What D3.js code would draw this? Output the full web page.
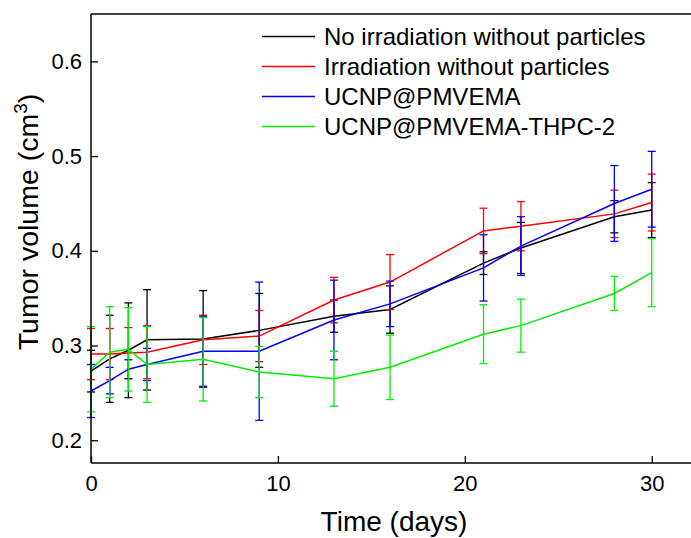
<!DOCTYPE html>
<html><head><meta charset="utf-8">
<script src="https://cdn.jsdelivr.net/npm/d3@7"></script>
<style>
html,body{margin:0;padding:0;background:#fff;}
text{font-family:"Liberation Sans", Arial, sans-serif;fill:#000;}
</style></head>
<body>
<svg id="chart" width="691" height="538"></svg>
<script>
const days = [0, 1, 2, 3, 6, 9, 13, 16, 21, 23, 28, 30];
const seriesNames = ["No irradiation without particles", "Irradiation without particles", "UCNP@PMVEMA", "UCNP@PMVEMA-THPC-2"];
const seriesColors = ["#000000", "#ff0000", "#0000ff", "#00ee00"];
const noIrrMean = [0.273, 0.286, 0.295, 0.306, 0.307, 0.316, 0.331, 0.338, 0.387, 0.403, 0.436, 0.443];
const noIrrErr  = [0.022, 0.046, 0.050, 0.053, 0.051, 0.039, 0.017, 0.025, 0.012, 0.027, 0.017, 0.029];
const irrMean   = [0.291, 0.291, 0.292, 0.293, 0.306, 0.310, 0.348, 0.367, 0.421, 0.426, 0.439, 0.451];
const irrErr    = [0.027, 0.027, 0.027, 0.028, 0.026, 0.027, 0.024, 0.029, 0.024, 0.026, 0.025, 0.030];
const ucnpMean  = [0.252, 0.263, 0.275, 0.280, 0.294, 0.294, 0.327, 0.344, 0.382, 0.405, 0.450, 0.465];
const ucnpErr   = [0.028, 0.014, 0.010, 0.017, 0.037, 0.073, 0.042, 0.024, 0.035, 0.031, 0.040, 0.040];
const thpcMean  = [0.275, 0.293, 0.296, 0.280, 0.2855, 0.272, 0.265, 0.277, 0.312, 0.321, 0.355, 0.377];
const thpcErr   = [0.045, 0.048, 0.044, 0.040, 0.044, 0.027, 0.029, 0.034, 0.031, 0.028, 0.018, 0.036];
const xTicks = [0, 10, 20, 30];
const yTicks = [0.2, 0.3, 0.4, 0.5, 0.6];

const means = [noIrrMean, irrMean, ucnpMean, thpcMean];
const errs = [noIrrErr, irrErr, ucnpErr, thpcErr];

const svg = d3.select("#chart");
const L = 91, R = 691, T = 14, B = 463;
const x = d3.scaleLinear().domain([0, 32.1]).range([L, R]);
const y = d3.scaleLinear().domain([0.176, 0.65]).range([B, T]);

// series
means.forEach((m, si) => {
  const pts = days.map((d, i) => ({d, v: m[i], e: errs[si][i]}));
  const g = svg.append("g");
  g.append("path").datum(pts)
    .attr("fill", "none").attr("stroke", seriesColors[si]).attr("stroke-width", 1.5)
    .attr("d", d3.line().x(p => x(p.d)).y(p => y(p.v)));
  const eb = g.selectAll("g.eb").data(pts).join("g");
  eb.append("line").attr("x1", p => x(p.d)).attr("x2", p => x(p.d))
    .attr("y1", p => y(p.v - p.e)).attr("y2", p => y(p.v + p.e))
    .attr("stroke", seriesColors[si]).attr("stroke-width", 1.3);
  [1, -1].forEach(s => {
    eb.append("line").attr("x1", p => x(p.d) - 4).attr("x2", p => x(p.d) + 4)
      .attr("y1", p => y(p.v + s * p.e)).attr("y2", p => y(p.v + s * p.e))
      .attr("stroke", seriesColors[si]).attr("stroke-width", 1.3);
  });
});

// axes
const xAxis = svg.append("g").attr("transform", `translate(0,${B})`)
  .call(d3.axisBottom(x).tickValues(xTicks).tickSize(-7).tickPadding(12).tickFormat(d3.format("d")));
const yAxis = svg.append("g").attr("transform", `translate(${L},0)`)
  .call(d3.axisLeft(y).tickValues(yTicks).tickSize(-7).tickPadding(9).tickFormat(d3.format(".1f")));
[xAxis, yAxis].forEach(a => {
  a.select(".domain").attr("stroke", "#000").attr("stroke-width", 1.5);
  a.selectAll(".tick line").attr("stroke", "#000").attr("stroke-width", 1.3);
  a.selectAll(".tick text").attr("font-size", 22).attr("font-family", "Liberation Sans, Arial, sans-serif");
});
xAxis.select(".domain").attr("d", `M${L},0H${R}`);
yAxis.select(".domain").attr("d", `M0,${B}V${T}`);
svg.append("line").attr("x1", L).attr("x2", R).attr("y1", T).attr("y2", T)
  .attr("stroke", "#000").attr("stroke-width", 1.5);

// titles
svg.append("text").attr("x", 394).attr("y", 531).attr("text-anchor", "middle")
  .attr("font-size", 28).text("Time (days)");
const yt = svg.append("text").attr("transform", "translate(38,222) rotate(-90)")
  .attr("text-anchor", "middle").attr("font-size", 28.5);
yt.append("tspan").text("Tumor volume (cm");
yt.append("tspan").attr("font-size", 19).attr("dy", -11).text("3");
yt.append("tspan").attr("dy", 11).text(")");

// legend
seriesNames.forEach((n, i) => {
  const ly = 36.5 + i * 30;
  svg.append("line").attr("x1", 262).attr("x2", 315).attr("y1", ly).attr("y2", ly)
    .attr("stroke", seriesColors[i]).attr("stroke-width", 1.5);
  svg.append("text").attr("x", 324).attr("y", ly + 8.5).attr("font-size", 24).text(n);
});
</script>
</body></html>
